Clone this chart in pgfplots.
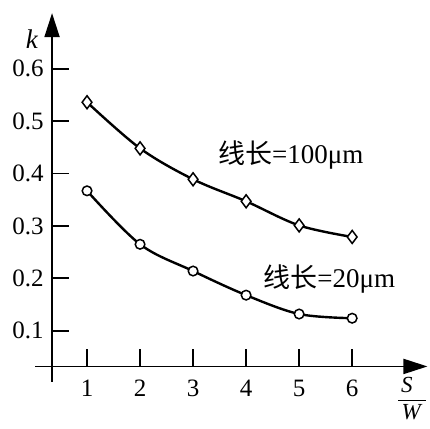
\documentclass[border=0pt]{standalone}
\usepackage{fontspec}
\setmainfont{Liberation Serif}
\newfontfamily\cjk{Noto Sans CJK SC}
\usepackage{pgfplots}
\pgfplotsset{compat=1.18}
\usetikzlibrary{arrows.meta}
\begin{document}
\begin{tikzpicture}
\begin{axis}[
  x=53bp, y=524bp,
  xmin=0.34, xmax=7.42, ymin=0.032, ymax=0.706,
  axis lines=left,
  clip=false,
  axis line style={line width=1.9bp, -{Triangle[length=24bp,width=15bp]}},
  xtick={1,2,3,4,5,6},
  xticklabels={1,2,3,4,5,6},
  ytick={0.1,0.2,0.3,0.4,0.5,0.6},
  yticklabels={0.1,0.2,0.3,0.4,0.5,0.6},
  tick align=inside,
  major tick length=17bp,
  tick style={line width=1.9bp, black},
  tick label style={font=\fontsize{25bp}{28bp}\selectfont},
  xticklabel style={yshift=-10bp},
  yticklabel style={xshift=-5bp},
]
\addplot[smooth, tension=0.55, line width=2.4bp, mark=diamond*,
  mark options={fill=white, line width=1.5bp, solid}, mark size=6.5bp]
  coordinates {(1,0.536)(2,0.448)(3,0.389)(4,0.347)(5,0.301)(6,0.279)};
\addplot[smooth, tension=0.55, line width=2.4bp, mark=*,
  mark options={fill=white, line width=1.5bp, solid}, mark size=4.8bp]
  coordinates {(1,0.367)(2,0.265)(3,0.214)(4,0.168)(5,0.132)(6,0.124)};
\draw[line width=1.9bp] (axis cs:0.34,0.032) -- (axis cs:0.019,0.032);
\draw[line width=1.9bp] (axis cs:0.34,0.032) -- (axis cs:0.34,0.002);
\node[anchor=west, inner sep=0pt, font=\fontsize{27bp}{30bp}\selectfont]
  at (axis cs:3.47,0.435) {{\cjk 线长}=100μm};
\node[anchor=west, inner sep=0pt, font=\fontsize{27bp}{30bp}\selectfont]
  at (axis cs:4.32,0.198) {{\cjk 线长}=20μm};
\node[inner sep=0pt, font=\fontsize{27bp}{30bp}\selectfont]
  at (axis cs:-0.038,0.656) {\textit{k}};
\node[anchor=base, inner sep=0pt, font=\fontsize{23bp}{27bp}\selectfont]
  at (axis cs:7.03,-0.017) {\textit{S}};
\draw[line width=1.4bp] (axis cs:6.868,-0.033) -- (axis cs:7.396,-0.033);
\node[anchor=base, inner sep=0pt, font=\fontsize{23bp}{27bp}\selectfont]
  at (axis cs:7.13,-0.070) {\textit{W}};
\coordinate (bbl) at (axis cs:-0.6415,-0.0859);
\coordinate (btr) at (axis cs:7.468,0.731);
\end{axis}
\pgfresetboundingbox
\useasboundingbox (bbl) rectangle (btr);
\end{tikzpicture}
\end{document}
